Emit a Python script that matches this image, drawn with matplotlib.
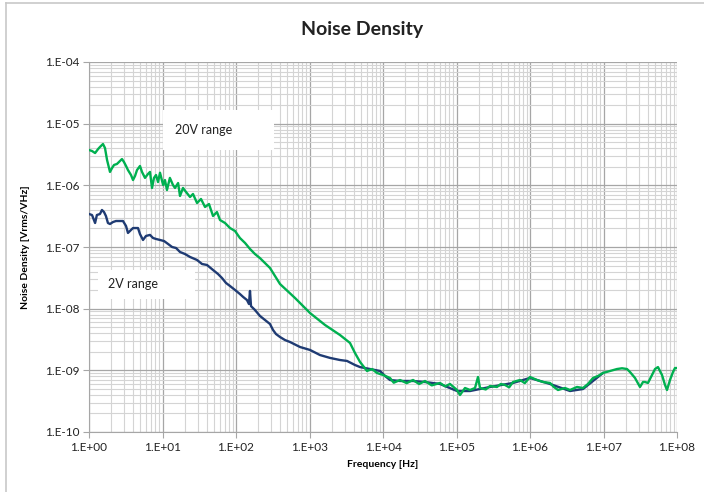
#!/usr/bin/env python3
import numpy as np
import matplotlib
matplotlib.use("Agg")
import matplotlib.pyplot as plt
from matplotlib.ticker import LogLocator, FuncFormatter, NullFormatter
from matplotlib.patches import Rectangle
from matplotlib.lines import Line2D

plt.rcParams['font.family'] = ['Lato', 'DejaVu Sans']

# 20V range
freq_20v = [1.0, 1.10, 1.21, 1.33, 1.41, 1.55, 1.65, 1.76, 1.93, 2.06, 2.19, 2.40, 2.64, 2.81,
            2.99, 3.19, 3.39, 3.73, 3.97, 4.23, 4.50, 4.94, 5.26, 5.78, 6.35, 6.76, 7.20, 7.66,
            8.16, 8.69, 9.25, 10.2, 10.8, 11.5, 12.6, 13.9, 14.8, 16.3, 17.3, 19.0, 20.9, 23.7,
            26.0, 29.5, 33.4, 37.9, 42.9, 48.7, 55.1, 60.6, 70.9, 82.9, 96.9, 113, 133, 155,
            181, 212, 290, 397, 635, 1016, 1625, 2600, 3556, 4159, 4866, 5513, 6059, 7085,
            8286, 1.0e4, 1.245e4, 1.4e4, 1.703e4, 2.1e4, 2.56e4, 3.1e4, 3.727e4, 4.6e4, 5.965e4,
            7.0e4, 8.16e4, 1.016e5, 1.116e5, 1.305e5, 1.527e5, 1.786e5, 1.961e5, 2.088e5,
            2.5e5, 2.857e5, 3.556e5, 4.0e5, 4.569e5, 5.2e5, 5.87e5, 7.31e5, 8.5e5, 1.0e6,
            1.245e6, 1.503e6, 1.871e6, 2.1e6, 2.404e6, 2.994e6, 3.502e6, 4.36e6, 5.26e6,
            6.15e6, 7.2e6, 8.42e6, 9.84e6, 1.226e7, 1.527e7, 1.786e7, 2.088e7, 2.294e7,
            2.683e7, 3.138e7, 3.446e7, 3.669e7, 4.03e7, 4.57e7, 5.02e7, 5.51e7, 6.25e7,
            6.87e7, 7.31e7, 8.03e7, 8.82e7, 9.39e7, 1.0e8]
dens_20v = [3.74e-6, 3.60e-6, 3.34e-6, 3.88e-6, 4.19e-6, 4.68e-6, 4.03e-6, 2.58e-6, 1.65e-6,
            1.91e-6, 2.14e-6, 2.22e-6, 2.48e-6, 2.67e-6, 2.39e-6, 2.06e-6, 1.77e-6, 1.47e-6,
            1.22e-6, 1.42e-6, 1.77e-6, 2.06e-6, 1.65e-6, 1.32e-6, 1.53e-6, 1.65e-6, 9.06e-7,
            1.32e-6, 1.47e-6, 1.13e-6, 1.60e-6, 1.01e-6, 1.22e-6, 8.40e-7, 1.32e-6, 1.01e-6,
            9.06e-7, 1.09e-6, 6.72e-7, 9.06e-7, 7.80e-7, 6.47e-7, 7.24e-7, 5.17e-7, 6.01e-7,
            4.45e-7, 4.98e-7, 3.18e-7, 3.69e-7, 2.74e-7, 2.45e-7, 2.03e-7, 1.82e-7, 1.40e-7,
            1.16e-7, 9.3e-8, 7.7e-8, 6.6e-8, 4.57e-8, 2.51e-8, 1.49e-8, 8.5e-9, 5.44e-9, 3.74e-9,
            2.78e-9, 1.91e-9, 1.37e-9, 1.13e-9, 9.76e-10, 1.05e-9, 9.06e-10, 8.41e-10, 7.52e-10,
            6.3e-10, 6.97e-10, 6.2e-10, 6.97e-10, 6.0e-10, 6.72e-10, 5.7e-10, 6.24e-10, 5.5e-10,
            6.01e-10, 4.80e-10, 3.98e-10, 5.17e-10, 4.80e-10, 5.17e-10, 7.80e-10, 5.17e-10,
            4.9e-10, 5.57e-10, 5.37e-10, 6.0e-10, 5.79e-10, 5.3e-10, 6.47e-10, 6.97e-10,
            6.2e-10, 7.80e-10, 6.97e-10, 6.47e-10, 6.24e-10, 5.4e-10, 4.80e-10, 5.17e-10,
            4.80e-10, 5.37e-10, 5.17e-10, 6.01e-10, 7.52e-10, 8.10e-10, 9.06e-10, 9.76e-10,
            1.05e-9, 1.08e-9, 1.05e-9, 9.40e-10, 7.52e-10, 5.37e-10, 6.47e-10, 6.47e-10,
            6.24e-10, 8.41e-10, 1.05e-9, 1.13e-9, 8.41e-10, 5.79e-10, 4.80e-10, 6.97e-10,
            9.40e-10, 1.09e-9, 1.09e-9]

# 2V range
freq_2v = [1.0, 1.10, 1.21, 1.28, 1.41, 1.50, 1.60, 1.70, 1.81, 1.93, 2.12, 2.33, 2.64, 2.90,
           3.19, 3.39, 3.73, 3.97, 4.36, 4.64, 4.94, 5.43, 5.96, 6.76, 7.43, 8.16, 9.25, 10.5,
           11.9, 13.5, 15.3, 17.3, 20.2, 23.7, 29.5, 34.5, 40.3, 48.7, 56.9, 64.5, 73.1, 82.9,
           96.9, 113, 125, 141, 150, 155, 160, 181, 212, 248, 290, 319, 350, 397, 464, 543,
           743, 1016, 1390, 1900, 2600, 3237, 4159, 4866, 6656, 9104, 1.065e4, 1.245e4,
           1.703e4, 2.56e4, 3.727e4, 5.965e4, 1.016e5, 1.527e5, 2.857e5, 5.87e5, 1.0e6,
           1.871e6, 3.502e6, 5.26e6, 7.2e6, 9.84e6]
dens_2v = [3.43e-7, 3.30e-7, 2.45e-7, 3.30e-7, 3.43e-7, 3.98e-7, 3.69e-7, 3.18e-7, 2.45e-7,
           2.36e-7, 2.54e-7, 2.64e-7, 2.64e-7, 2.64e-7, 2.19e-7, 1.69e-7, 1.89e-7, 2.03e-7,
           2.03e-7, 2.03e-7, 1.62e-7, 1.30e-7, 1.51e-7, 1.57e-7, 1.40e-7, 1.35e-7, 1.30e-7,
           1.25e-7, 1.12e-7, 1.00e-7, 9.63e-8, 8.30e-8, 7.70e-8, 6.89e-8, 6.16e-8, 5.30e-8,
           5.11e-8, 4.24e-8, 3.65e-8, 3.14e-8, 2.61e-8, 2.33e-8, 2.01e-8, 1.73e-8, 1.55e-8,
           1.38e-8, 1.19e-8, 1.94e-8, 1.10e-8, 9.52e-9, 7.61e-9, 6.55e-9, 5.64e-9, 4.51e-9,
           3.88e-9, 3.47e-9, 3.10e-9, 2.88e-9, 2.39e-9, 2.14e-9, 1.77e-9, 1.59e-9, 1.47e-9,
           1.42e-9, 1.22e-9, 1.13e-9, 1.05e-9, 9.76e-10, 8.10e-10, 6.97e-10, 6.72e-10,
           6.72e-10, 6.47e-10, 6.01e-10, 4.62e-10, 4.62e-10, 5.37e-10, 6.24e-10, 7.52e-10,
           6.01e-10, 4.62e-10, 4.98e-10, 6.72e-10, 9.06e-10]

W, H = 704, 492

fig = plt.figure(figsize=(W / 100, H / 100), dpi=100)
# light chart-area border, only the left and top edges are inside the picture
fig.add_artist(Line2D([6 / W, 6 / W], [0, 1 - 3 / H], transform=fig.transFigure,
                      color="#c8c8c8", lw=1.2))
fig.add_artist(Line2D([6 / W, 1], [1 - 3 / H, 1 - 3 / H], transform=fig.transFigure,
                      color="#c8c8c8", lw=1.2))
ax = fig.add_axes([89 / W, 1 - 432 / H, 588 / W, 370 / H])

ax.plot(freq_2v, dens_2v, color="#1f3b73", lw=1.7, zorder=3)
ax.plot(freq_20v, dens_20v, color="#00b050", lw=1.7, zorder=4)

ax.set_xscale("log")
ax.set_yscale("log")
ax.set_xlim(1, 1e8)
ax.set_ylim(1e-10, 1e-4)

ax.xaxis.set_major_locator(LogLocator(base=10, numticks=20))
ax.yaxis.set_major_locator(LogLocator(base=10, numticks=20))
ax.xaxis.set_minor_locator(LogLocator(base=10, subs=np.arange(2, 10), numticks=100))
ax.yaxis.set_minor_locator(LogLocator(base=10, subs=np.arange(2, 10), numticks=100))
fmt = FuncFormatter(lambda v, p: "1.E{0:+03d}".format(int(round(np.log10(v)))))
ax.xaxis.set_major_formatter(fmt)
ax.yaxis.set_major_formatter(fmt)
ax.xaxis.set_minor_formatter(NullFormatter())
ax.yaxis.set_minor_formatter(NullFormatter())

ax.grid(which="major", color="#a6a6a6", lw=0.9)
ax.grid(which="minor", color="#d4d4d4", lw=0.8)
ax.set_axisbelow(True)
for s in ax.spines.values():
    s.set_visible(False)
for side in ["bottom", "left"]:
    ax.spines[side].set_visible(True)
    ax.spines[side].set_color("#a6a6a6")
ax.tick_params(which="major", length=4, color="#a6a6a6", labelsize=8.5, labelcolor="#222222", pad=3)
ax.tick_params(which="minor", length=0)

ax.set_xlabel("Frequency [Hz]", fontsize=7.5, fontweight="bold", labelpad=5)
ax.set_ylabel("Noise Density [Vrms/VHz]", fontsize=7.5, fontweight="bold", labelpad=11)
fig.text(0.5 + 10 / W, 1 - 30 / H, "Noise Density", ha="center", va="center",
         fontsize=14, fontweight="bold", color="#222222")

# white label boxes
for (x0, y0, x1, y1) in [(163, 110, 274, 150), (98, 270, 195, 299)]:
    fig.patches.append(Rectangle((x0 / W, 1 - y1 / H), (x1 - x0) / W, (y1 - y0) / H,
                                 transform=fig.transFigure, fc="white", ec="none", zorder=5))
fig.text(175 / W, 1 - 130 / H, "20V range", fontsize=9, color="#222222", va="center", ha="left",
         zorder=6)
fig.text(108 / W, 1 - 284 / H, "2V range", fontsize=9, color="#222222", va="center", ha="left",
         zorder=6)

plt.savefig("out.png", dpi=100)
plt.close()
